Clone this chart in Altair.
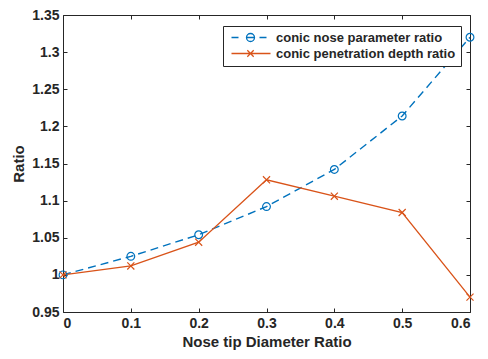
import altair as alt
import pandas as pd

x_vals = [0, 0.1, 0.2, 0.3, 0.4, 0.5, 0.6]
nose_ratio = [1.000, 1.025, 1.054, 1.092, 1.142, 1.214, 1.320]
pen_ratio = [1.000, 1.012, 1.044, 1.128, 1.106, 1.084, 0.970]
series_names = ["conic nose parameter ratio", "conic penetration depth ratio"]
series_colors = ["#0072BD", "#D95319"]
x_ticks = [0, 0.1, 0.2, 0.3, 0.4, 0.5, 0.6]
y_ticks = [0.95, 1.0, 1.05, 1.1, 1.15, 1.2, 1.25, 1.3, 1.35]

df = pd.DataFrame({
    "x": x_vals + x_vals,
    "y": nose_ratio + pen_ratio,
    "series": [series_names[0]] * len(x_vals) + [series_names[1]] * len(x_vals),
})

FONT = "Liberation Sans"
DARK = "#262626"

xs = alt.Scale(domain=[0, 0.6], nice=False, zero=False)
ys = alt.Scale(domain=[0.95, 1.35], nice=False, zero=False)
cscale = alt.Scale(domain=series_names, range=series_colors)
# legend sample glyphs: line + marker, as in the original legend
legend_shapes = [
    "M-0.75,0H1M3,0A1,1 0 1,1 5,0A1,1 0 1,1 3,0M3,0H5M6.25,0H8",
    "M-0.75,0H9M3.2,-0.8L4.8,0.8M3.2,0.8L4.8,-0.8",
]
sscale = alt.Scale(domain=series_names, range=legend_shapes)

legend = alt.Legend(
    title=None, orient="none", legendX=160, legendY=11,
    symbolSize=64, symbolStrokeWidth=1.3, symbolFillColor="transparent",
    labelFont=FONT, labelFontSize=13, labelFontWeight="bold", labelColor=DARK,
    labelLimit=400, strokeColor=DARK, fillColor="white", padding=5, rowPadding=2,
    labelOffset=35, cornerRadius=0,
)

axis_common = dict(
    labelFont=FONT, labelFontSize=14, labelFontWeight="bold", labelColor=DARK,
    titleFont=FONT, titleFontSize=15, titleFontWeight="bold", titleColor=DARK,
    domain=False, tickColor=DARK, tickSize=4, offset=-4,
    gridColor="#e3e3e3", gridWidth=1, format="~g",
)
axis_side = dict(labels=False, domain=False, grid=False, tickColor=DARK, tickSize=4, offset=-4, title=None)

base = alt.Chart(df)
nose_df = base.transform_filter(alt.datum.series == series_names[0])
pen_df = base.transform_filter(alt.datum.series == series_names[1])

# legend carrier (draws no data marks, only provides the legend)
legend_layer = base.transform_filter("datum.x < -1").mark_point(filled=False, opacity=1).encode(
    x=alt.X("x:Q", scale=xs, axis=None),
    y=alt.Y("y:Q", scale=ys, axis=None),
    color=alt.Color("series:N", scale=cscale, legend=legend),
    shape=alt.Shape("series:N", scale=sscale, legend=legend),
)

line_nose = nose_df.mark_line(strokeWidth=1.4, strokeDash=[8, 5]).encode(
    x=alt.X("x:Q", scale=xs, axis=alt.Axis(orient="bottom", values=x_ticks, title="Nose tip Diameter Ratio",
                                           labelPadding=4, titlePadding=4, **axis_common)),
    y=alt.Y("y:Q", scale=ys, axis=alt.Axis(orient="left", values=y_ticks, title="Ratio",
                                           labelPadding=4, titlePadding=5, **axis_common)),
    color=alt.Color("series:N", scale=cscale, legend=legend),
)

line_pen = pen_df.mark_line(strokeWidth=1.3).encode(
    x=alt.X("x:Q", scale=xs, axis=None),
    y=alt.Y("y:Q", scale=ys, axis=None),
    color=alt.Color("series:N", scale=cscale, legend=legend),
)

pts_nose = nose_df.mark_point(filled=False, size=60, strokeWidth=1.2, shape="circle", opacity=1).encode(
    x=alt.X("x:Q", scale=xs, axis=alt.Axis(orient="top", values=x_ticks, **axis_side)),
    y=alt.Y("y:Q", scale=ys, axis=alt.Axis(orient="right", values=y_ticks, **axis_side)),
    color=alt.Color("series:N", scale=cscale, legend=legend),
)

pts_pen = pen_df.mark_point(filled=False, size=50, strokeWidth=1.2, shape="M-1,-1L1,1M-1,1L1,-1", opacity=1).encode(
    x=alt.X("x:Q", scale=xs, axis=None),
    y=alt.Y("y:Q", scale=ys, axis=None),
    color=alt.Color("series:N", scale=cscale, legend=legend),
)

chart = alt.layer(legend_layer, line_nose, line_pen, pts_nose, pts_pen).resolve_axis(
    x="independent", y="independent"
).properties(
    width=407, height=297,
    autosize=alt.AutoSizeParams(type="none"),
    padding={"left": 55, "top": 7, "right": 10, "bottom": 39},
    background="white",
).configure_view(stroke=DARK, strokeWidth=1)

chart.save("out.html", embed_options={"renderer": "svg", "actions": False})
